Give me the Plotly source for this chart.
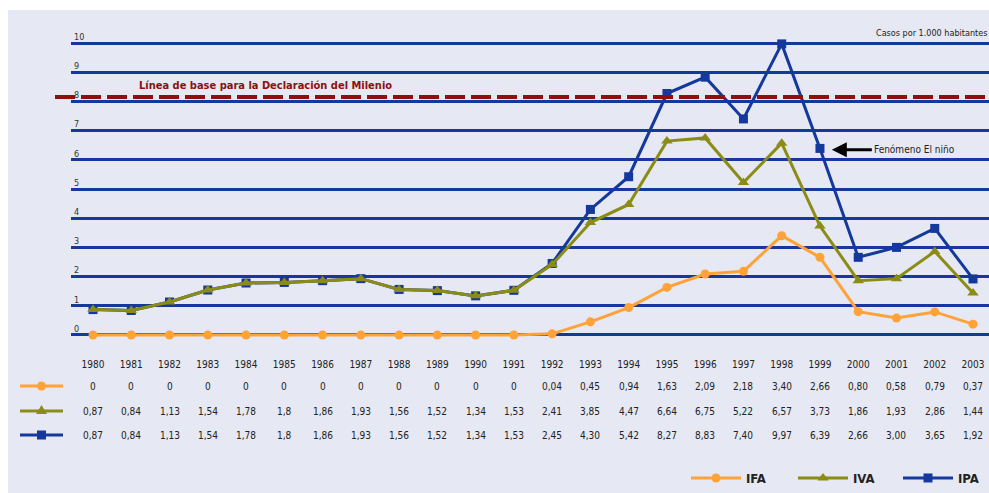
import plotly.graph_objects as go

W, H = 989, 493

years = list(range(1980, 2004))

ifa_txt = ["0", "0", "0", "0", "0", "0", "0", "0", "0", "0", "0", "0",
           "0,04", "0,45", "0,94", "1,63", "2,09", "2,18", "3,40", "2,66", "0,80", "0,58", "0,79", "0,37"]
iva_txt = ["0,87", "0,84", "1,13", "1,54", "1,78", "1,8", "1,86", "1,93", "1,56", "1,52", "1,34", "1,53",
           "2,41", "3,85", "4,47", "6,64", "6,75", "5,22", "6,57", "3,73", "1,86", "1,93", "2,86", "1,44"]
ipa_txt = ["0,87", "0,84", "1,13", "1,54", "1,78", "1,8", "1,86", "1,93", "1,56", "1,52", "1,34", "1,53",
           "2,45", "4,30", "5,42", "8,27", "8,83", "7,40", "9,97", "6,39", "2,66", "3,00", "3,65", "1,92"]

ifa = [float(s.replace(",", ".")) for s in ifa_txt]
iva = [float(s.replace(",", ".")) for s in iva_txt]
ipa = [float(s.replace(",", ".")) for s in ipa_txt]

linea_base = 8.15
nino_year, nino_val = 1999.31, 6.34

BG = "#e6e8f3"
C_IFA = "#ffa238"
C_IVA = "#8a8c16"
C_IPA = "#14389c"
C_RED = "#8e0f10"
FONT = "Liberation Sans Narrow, DejaVu Sans Condensed, Arial Narrow, sans-serif"


def px(x):
    return x / W


def py(y):
    return 1 - y / H


fig = go.Figure()

fig.add_trace(go.Scatter(x=years, y=ipa, name="<b>IPA</b>", mode="lines+markers", legend="legend3",
                         line=dict(color=C_IPA, width=3),
                         marker=dict(symbol="square", size=9, color=C_IPA), cliponaxis=False))
fig.add_trace(go.Scatter(x=years, y=iva, name="<b>IVA</b>", mode="lines+markers", legend="legend2",
                         line=dict(color=C_IVA, width=3),
                         marker=dict(symbol="triangle-up", size=10, color=C_IVA), cliponaxis=False))
fig.add_trace(go.Scatter(x=years, y=ifa, name="<b>IFA</b>", mode="lines+markers", legend="legend",
                         line=dict(color=C_IFA, width=3),
                         marker=dict(symbol="circle", size=9, color=C_IFA), cliponaxis=False))

shapes = []
# white strips around the panel
shapes.append(dict(type="rect", xref="paper", yref="paper", x0=0, x1=1, y0=py(10), y1=1,
                   fillcolor="white", line_width=0, layer="below"))
shapes.append(dict(type="rect", xref="paper", yref="paper", x0=0, x1=px(8), y0=0, y1=1,
                   fillcolor="white", line_width=0, layer="below"))
# baseline
shapes.append(dict(type="line", xref="paper", yref="y", x0=px(55), x1=1, y0=linea_base, y1=linea_base,
                   line=dict(color=C_RED, width=4, dash="20px,6px"), layer="above"))

# key symbols in the table
rows = [(386, C_IFA, "circle"), (411, C_IVA, "triangle"), (435, C_IPA, "square")]
for yy, c, sym in rows:
    shapes.append(dict(type="line", xref="paper", yref="paper", x0=px(20), x1=px(63), y0=py(yy), y1=py(yy),
                       line=dict(color=c, width=3)))
    if sym == "circle":
        shapes.append(dict(type="circle", xref="paper", yref="paper", x0=px(37), x1=px(46),
                           y0=py(yy + 4.5), y1=py(yy - 4.5), fillcolor=c, line_width=0))
    elif sym == "square":
        shapes.append(dict(type="rect", xref="paper", yref="paper", x0=px(37), x1=px(46),
                           y0=py(yy + 4.5), y1=py(yy - 4.5), fillcolor=c, line_width=0))
    else:
        path = "M {} {} L {} {} L {} {} Z".format(px(36), py(yy + 3), px(47), py(yy + 3), px(41.5), py(yy - 6))
        shapes.append(dict(type="path", xref="paper", yref="paper", path=path, fillcolor=c, line_width=0))

ann = []
for txts, yy in [(ifa_txt, 386), (iva_txt, 411), (ipa_txt, 435)]:
    for yr, t in zip(years, txts):
        ann.append(dict(x=yr, y=py(yy), xref="x", yref="paper", yanchor="middle", text=t, showarrow=False,
                        font=dict(family=FONT, size=10, color="#222222")))

ann.append(dict(x=px(137), y=linea_base, xref="paper", yref="y", yshift=12, xanchor="left",
                text="<b>Línea de base para la Declaración del Milenio</b>", showarrow=False,
                font=dict(family=FONT, size=11, color=C_RED)))
ann.append(dict(x=px(874), y=py(33), xref="paper", yref="paper", xanchor="left", yanchor="middle",
                text="Casos por 1.000 habitantes", showarrow=False,
                font=dict(family=FONT, size=9, color="#222222")))
ann.append(dict(x=nino_year, y=nino_val, xref="x", yref="y", ax=40, ay=0, xanchor="left",
                text="Fenómeno El niño", showarrow=True, arrowhead=2, arrowsize=1, arrowwidth=3,
                arrowcolor="black", font=dict(family=FONT, size=10, color="#222222")))

leg = dict(orientation="h", xanchor="left", y=py(478), yanchor="middle", bgcolor="rgba(0,0,0,0)",
           font=dict(family=FONT, size=13, color="#222222"), itemwidth=50)

fig.update_layout(
    width=W, height=H,
    margin=dict(l=0, r=0, t=0, b=0),
    paper_bgcolor=BG, plot_bgcolor=BG,
    font=dict(family=FONT, size=10, color="#222222"),
    shapes=shapes, annotations=ann,
    xaxis=dict(domain=[px(71), 1], range=[1979.425, 2003.418], showgrid=False, zeroline=False,
               tickmode="array", tickvals=years, ticks="", ticklabelstandoff=7,
               tickfont=dict(family=FONT, size=10, color="#222222")),
    yaxis=dict(domain=[py(350), 1], range=[-0.514, 11.473], tickmode="array", tickvals=list(range(11)),
               showgrid=True, gridcolor=C_IPA, gridwidth=2.5, zeroline=False,
               ticklabelposition="inside top", tickfont=dict(family=FONT, size=9, color="#333333")),
    legend=dict(leg, x=px(686)),
    legend2=dict(leg, x=px(793)),
    legend3=dict(leg, x=px(898)),
    showlegend=True,
)

fig.write_html("out.html", config={"displayModeBar": False},
               post_script="document.body.style.margin='0';document.body.style.overflow='hidden';")
